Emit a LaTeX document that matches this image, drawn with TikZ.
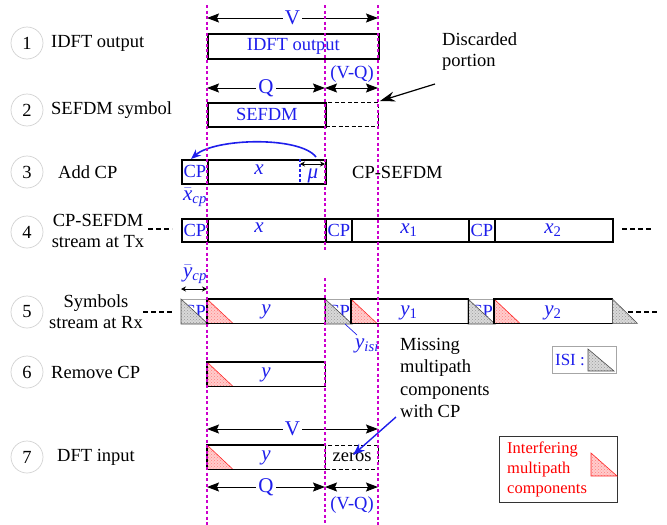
\documentclass[tikz,border=0pt]{standalone}
\usepackage{fontspec}
\setmainfont{Liberation Serif}
\usetikzlibrary{arrows.meta,patterns}
\definecolor{mag}{RGB}{204,0,204}
\definecolor{tblue}{RGB}{30,30,235}
\newcommand\mysub[1]{\textsubscript{#1}}
\newcommand\mybar[1]{$\bar{\mbox{#1}}$}
\begin{document}
\begin{tikzpicture}[x=1pt,y=-1pt,
  every node/.style={font=\fontsize{18.5}{21}\selectfont, inner sep=0pt},
  box/.style={draw=black, line width=1.7pt, anchor=north west},
  plainbox/.style={anchor=north west},
  gbox/.style={draw=gray!70, line width=1pt, anchor=north west},
  dbox/.style={draw=black, line width=1.3pt, dash pattern=on 4pt off 2.5pt, anchor=north west},
  num/.style={circle, draw=gray!35, line width=0.7pt, minimum size=32pt},
  lbl/.style={anchor=west},
  blu/.style={text=tblue},
  mth/.style={text=tblue, font=\fontsize{21}{23}\selectfont\itshape},
  big/.style={font=\fontsize{21}{24}\selectfont},
  guide/.style={draw=mag, line width=1.5pt, dash pattern=on 3pt off 2.5pt},
  dim/.style={line width=1pt, {Stealth[length=12pt,width=9pt,inset=2pt]}-{Stealth[length=12pt,width=9pt,inset=2pt]}},
  sdim/.style={line width=0.9pt, {Stealth[length=5pt,width=5pt]}-{Stealth[length=5pt,width=5pt]}},
  lead/.style={line width=2.5pt, dash pattern=on 5pt off 3pt},
  isi/.style={preaction={fill=gray!30}, pattern=crosshatch dots, pattern color=gray!80, draw=gray!60!black, line width=0.6pt},
  intf/.style={preaction={fill=red!20}, pattern=crosshatch dots, pattern color=red!50, draw=red!85, line width=0.6pt},
  frame/.style={line width=1.7pt},
]
\useasboundingbox (0,0) rectangle (667,525);

% ---------- Row 1
\node[num] (n1) at (27,43) {1};
\node[lbl] (t1) at (51,43) {IDFT output};
\node[box, blu, minimum width=171pt, minimum height=25pt] (idft) at (207,33) {IDFT output};
\coordinate (v1a) at (207,18); \coordinate (v1b) at (378,18);
\draw[dim] (v1a) -- node[fill=white, blu, big, inner xsep=2pt] (v1l) {V} (v1b);

% ---------- Row 2
\node[num] (n2) at (27,110) {2};
\node[lbl] (t2) at (51,110) {SEFDM symbol};
\node[dbox, minimum width=53pt, minimum height=24pt] (disc) at (325,102) {};
\node[box, blu, minimum width=118pt, minimum height=24pt] (sefdm) at (207,102) {SEFDM};
\coordinate (q2a) at (207,88); \coordinate (q2b) at (325,88); \coordinate (q2c) at (378,88);
\draw[dim] (q2a) -- node[fill=white, blu, big, inner xsep=2pt] (q2l) {Q} (q2b);
\draw[dim] (q2b) -- (q2c);
\node[blu] (vq2) at (352,74) {(V-Q)};
\node[lbl, align=left] (disct) at (442,52) {Discarded\\portion};
\coordinate (da) at (435,84); \coordinate (dtip) at (380,101);
\draw[line width=1.2pt, -{Stealth[length=15pt,width=10pt]}] (da) -- (dtip);

% ---------- Row 3
\node[num] (n3) at (27,172) {3};
\node[lbl] (t3) at (58,172) {Add CP};
\node[box, blu, minimum width=26pt, minimum height=24pt] (cp3) at (181,159) {CP};
\node[box, minimum width=118pt, minimum height=24pt] (x3) at (207,159) {};
\node[mth] (x3l) at (259,170) {x};
\coordinate (mu1) at (300,159); \coordinate (mu2) at (300,183);
\draw[tblue, line width=1.2pt, dash pattern=on 3pt off 2pt] (mu1) -- (mu2);
\coordinate (mua) at (300,164); \coordinate (mub) at (325,164);
\draw[sdim] (mua) -- (mub);
\node[mth] (mul) at (313,176) {μ};
\coordinate (arcS) at (316,157); \coordinate (arcE) at (191,159);
\draw[tblue, line width=1.6pt, -{Stealth[length=10pt,width=8pt]}] (arcS) .. controls (300,136) and (215,138) .. (arcE);
\node[lbl] (cps) at (352,172) {CP-SEFDM};
\node[mth] (xcp) at (195,197) {\mybar{x}\mysub{cp}};

% ---------- Row 4
\node[num] (n4) at (27,232) {4};
\node[align=center] (t4) at (98,231) {CP-SEFDM\\stream at Tx};
\coordinate (d4a) at (148,229); \coordinate (d4b) at (172,229);
\draw[lead] (d4a) -- (d4b);
\node[box, blu, minimum width=26pt, minimum height=23pt] (cp4a) at (181,218) {CP};
\node[box, minimum width=118pt, minimum height=23pt] (x4) at (207,218) {};
\node[mth] (x4l) at (259,228) {x};
\node[box, blu, minimum width=26pt, minimum height=23pt] (cp4b) at (325,218) {CP};
\node[box, minimum width=117pt, minimum height=23pt] (x41) at (351,218) {};
\node[mth] (x41l) at (409,230) {x\mysub{\upshape 1}};
\node[box, blu, minimum width=26pt, minimum height=23pt] (cp4c) at (468,218) {CP};
\node[box, minimum width=118pt, minimum height=23pt] (x42) at (494,218) {};
\node[mth] (x42l) at (553,230) {x\mysub{\upshape 2}};
\coordinate (d4c) at (622,229); \coordinate (d4d) at (652,229);
\draw[lead] (d4c) -- (d4d);

% ---------- Row 5
\node[num] (n5) at (27,312) {5};
\node[align=center] (t5) at (96,312) {Symbols\\stream at Rx};
\coordinate (d5a) at (143,312); \coordinate (d5b) at (172,312);
\draw[lead] (d5a) -- (d5b);
\node[gbox, blu, minimum width=26pt, minimum height=24pt] (cp5a) at (181,299) {CP};
\node[gbox, blu, minimum width=26pt, minimum height=24pt] (cp5b) at (325,299) {CP};
\node[gbox, blu, minimum width=26pt, minimum height=24pt] (cp5c) at (468,299) {CP};
\path[isi] (cp5a.north west) -- (cp5a.south west) -- (cp5a.south east) -- cycle;
\path[isi] (cp5b.north west) -- (cp5b.south west) -- (cp5b.south east) -- cycle;
\path[isi] (cp5c.north west) -- (cp5c.south west) -- (cp5c.south east) -- cycle;
\node[plainbox, minimum width=118pt, minimum height=24pt] (y5) at (207,299) {};
\node[plainbox, minimum width=117pt, minimum height=24pt] (y51) at (351,299) {};
\node[plainbox, minimum width=118pt, minimum height=24pt] (y52) at (494,299) {};
\path[intf] (y5.north west) -- (y5.south west) -- ++(26,0) -- cycle;
\path[intf] (y51.north west) -- (y51.south west) -- ++(26,0) -- cycle;
\path[intf] (y52.north west) -- (y52.south west) -- ++(26,0) -- cycle;
\draw[frame] (y5.north west) rectangle (y5.south east);
\draw[frame] (y51.north west) rectangle (y51.south east);
\draw[frame] (y52.north west) rectangle (y52.south east);
\node[mth] (y5l) at (266,312) {y};
\node[mth] (y51l) at (409,313) {y\mysub{\upshape 1}};
\node[mth] (y52l) at (553,313) {y\mysub{\upshape 2}};
\path[isi] (y52.north east) -- (y52.south east) -- ++(25,0) -- cycle;
\coordinate (d5c) at (628,312); \coordinate (d5d) at (658,312);
\draw[lead] (d5c) -- (d5d);
\coordinate (ycpa) at (181,289); \coordinate (ycpb) at (207,289);
\draw[sdim] (ycpa) -- (ycpb);
\node[mth] (ycp) at (195,274) {\mybar{y}\mysub{cp}};
\coordinate (yi1) at (345,324); \coordinate (yi2) at (357,335);
\draw[tblue, line width=0.7pt] (yi1) -- (yi2);
\node[mth] (yisi) at (367,346) {y\mysub{isi}};
\node[lbl, align=left, font=\fontsize{18.5}{22.5}\selectfont] (miss) at (400,378) {Missing\\multipath\\components\\with CP};
\node[draw=gray!70, line width=1pt, minimum width=64pt, minimum height=27pt, anchor=north west] (isibox) at (552,346) {};
\node[blu, font=\fontsize{17}{20}\selectfont] (isit) at (570,360) {ISI :};
\coordinate (it1) at (588,349); \coordinate (it2) at (588,371); \coordinate (it3) at (614,371);
\path[isi] (it1) -- (it2) -- (it3) -- cycle;

% ---------- Row 6
\node[num] (n6) at (27,372) {6};
\node[lbl] (t6) at (51,372) {Remove CP};
\node[plainbox, minimum width=118pt, minimum height=24pt] (y6) at (207,362) {};
\path[intf] (y6.north west) -- (y6.south west) -- ++(26,0) -- cycle;
\draw[frame] (y6.north west) rectangle (y6.south east);
\node[mth] (y6l) at (266,375) {y};

% ---------- Row 7
\node[num] (n7) at (27,457) {7};
\node[lbl] (t7) at (57,457) {DFT input};
\coordinate (v7a) at (207,429); \coordinate (v7b) at (378,429);
\draw[dim] (v7a) -- node[fill=white, blu, big, inner xsep=2pt] (v7l) {V} (v7b);
\node[dbox, minimum width=53pt, minimum height=24pt] (zer) at (325,445) {zeros};
\node[plainbox, minimum width=118pt, minimum height=24pt] (y7) at (207,445) {};
\path[intf] (y7.north west) -- (y7.south west) -- ++(26,0) -- cycle;
\draw[frame] (y7.north west) rectangle (y7.south east);
\node[mth] (y7l) at (266,458) {y};
\coordinate (q7a) at (207,487); \coordinate (q7b) at (325,487); \coordinate (q7c) at (378,487);
\draw[dim] (q7a) -- node[fill=white, blu, big, inner xsep=2pt] (q7l) {Q} (q7b);
\draw[dim] (q7b) -- (q7c);
\node[blu] (vq7) at (352,505) {(V-Q)};
\coordinate (ma) at (396,417); \coordinate (mb) at (353,455);
\draw[tblue, line width=1.4pt, -{Stealth[length=12pt,width=9pt]}] (ma) -- (mb);

% legend interfering
\node[draw=gray!40!black, line width=0.8pt, minimum width=118pt, minimum height=66pt, anchor=north west] (intbox) at (499,436) {};
\node[lbl, align=left, text=red, font=\fontsize{16.5}{20}\selectfont] (intt) at (507,469) {Interfering\\multipath\\components};
\coordinate (rt1) at (591,453); \coordinate (rt2) at (591,476); \coordinate (rt3) at (617,476);
\path[intf] (rt1) -- (rt2) -- (rt3) -- cycle;

% ---------- guides
\coordinate (g1a) at (207,5); \coordinate (g1b) at (207,525);
\coordinate (g2a) at (325,5); \coordinate (g2b) at (325,252);
\coordinate (g2c) at (325,278); \coordinate (g2d) at (325,525);
\coordinate (g3a) at (378,5); \coordinate (g3b) at (378,525);
\draw[guide] (g1a) -- (g1b);
\draw[guide] (g2a) -- (g2b);
\draw[guide] (g2c) -- (g2d);
\draw[guide] (g3a) -- (g3b);
\end{tikzpicture}
\end{document}
